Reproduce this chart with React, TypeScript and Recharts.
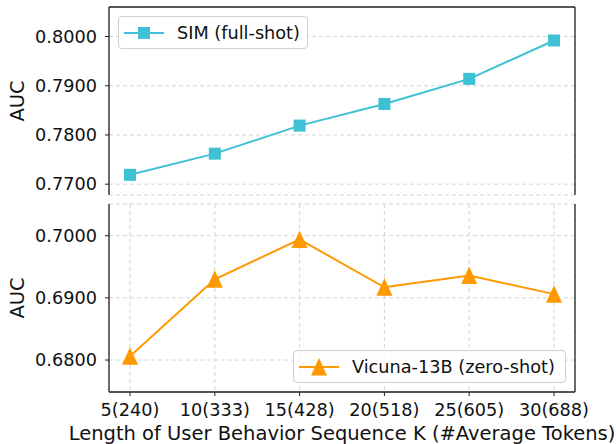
import React from 'react';
import { LineChart, Line, XAxis, YAxis, CartesianGrid } from 'recharts';

const categories = ['5(240)', '10(333)', '15(428)', '20(518)', '25(605)', '30(688)'];
const simValues = [0.7719, 0.7762, 0.7819, 0.7863, 0.7914, 0.7992];
const vicunaValues = [0.6806, 0.6930, 0.6994, 0.6917, 0.6936, 0.6906];
const topTicks = [0.77, 0.78, 0.79, 0.8];
const bottomTicks = [0.68, 0.69, 0.7];
const topDomain = [0.7678, 0.806];
const bottomDomain = [0.67486, 0.7051];
const simName = 'SIM (full-shot)';
const vicunaName = 'Vicuna-13B (zero-shot)';
const xLabel = 'Length of User Behavior Sequence K (#Average Tokens)';
const yLabel = 'AUC';

const data = categories.map((c, i) => ({ cat: c, sim: simValues[i], vicuna: vicunaValues[i] }));

const FONT = 'DejaVu Sans, sans-serif';
const FS = 17.7;
const LFS = 19.5;
const CYAN = '#3ec1d5';
const ORANGE = '#ff9900';
const SPINE = '#222';
const SPW = 1.3;
const GRID = '#d4d4d4';

const tickStyle = { fontFamily: FONT, fontSize: FS, fill: '#111' };
const labelStyle = { textAnchor: 'middle', fontFamily: FONT, fontSize: LFS, fill: '#111' } as any;

const Square = (props: any) => {
  const { cx, cy, index } = props;
  if (cx == null || cy == null) return null;
  return <rect key={`sq-${index}`} x={cx - 6} y={cy - 6} width={12} height={12} fill={CYAN} />;
};

const Tri = (props: any) => {
  const { cx, cy, index } = props;
  if (cx == null || cy == null) return null;
  return (
    <polygon
      key={`tri-${index}`}
      points={`${cx},${cy - 9} ${cx - 8},${cy + 8.5} ${cx + 8},${cy + 8.5}`}
      fill={ORANGE}
    />
  );
};

const LegendBox = ({ name, color, marker, left, top, width }: { name: string; color: string; marker: 'square' | 'tri'; left: number; top: number; width: number }) => (
  <div
    style={{
      position: 'absolute',
      left,
      top,
      width,
      height: 33,
      boxSizing: 'border-box',
      border: '1px solid #cfcfcf',
      borderRadius: 4,
      background: 'rgba(255,255,255,0.8)',
      display: 'flex',
      alignItems: 'center',
      paddingLeft: 5,
      fontFamily: FONT,
      fontSize: FS,
      color: '#111',
      whiteSpace: 'nowrap',
    }}
  >
    <svg width={42} height={30} style={{ flex: 'none' }}>
      <line x1={0} y1={15} x2={40} y2={15} stroke={color} strokeWidth={2} />
      {marker === 'square' ? (
        <rect x={14} y={9} width={12} height={12} fill={color} />
      ) : (
        <polygon points={`20,6 12,23.5 28,23.5`} fill={color} />
      )}
    </svg>
    <span style={{ marginLeft: 11 }}>{name}</span>
  </div>
);

export default function App() {
  return (
    <div style={{ position: 'absolute', left: 0, top: 0, width: 616, height: 444, background: '#fff' }}>
      <div style={{ position: 'absolute', left: 0, top: 0 }}>
        <LineChart width={616} height={200} data={data} margin={{ top: 6, right: 40, bottom: 5, left: 0 }}>
          <CartesianGrid stroke={GRID} strokeDasharray="4 3" strokeWidth={1} />
          <XAxis
            dataKey="cat"
            orientation="top"
            height={1}
            tick={false}
            tickLine={false}
            axisLine={{ stroke: SPINE, strokeWidth: SPW }}
            padding={{ left: 21, right: 21 }}
          />
          <YAxis
            type="number"
            domain={topDomain}
            ticks={topTicks}
            allowDataOverflow
            width={109}
            tickSize={4}
            tickMargin={8}
            tick={tickStyle}
            tickFormatter={(v: number) => v.toFixed(4)}
            axisLine={{ stroke: SPINE, strokeWidth: SPW }}
            tickLine={{ stroke: SPINE }}
            label={{ value: yLabel, angle: -90, position: 'insideLeft', offset: 17, style: labelStyle }}
          />
          <YAxis
            yAxisId="r"
            orientation="right"
            type="number"
            domain={topDomain}
            width={1}
            tick={false}
            tickLine={false}
            axisLine={{ stroke: SPINE, strokeWidth: SPW }}
          />
          <Line
            dataKey="sim"
            name={simName}
            stroke={CYAN}
            strokeWidth={2}
            dot={Square}
            activeDot={false}
            isAnimationActive={false}
          />
        </LineChart>
      </div>
      <div style={{ position: 'absolute', left: 0, top: 200 }}>
        <LineChart width={616} height={244} data={data} margin={{ top: 4, right: 40, bottom: 0, left: 0 }}>
          <CartesianGrid stroke={GRID} strokeDasharray="4 3" strokeWidth={1} />
          <XAxis
            dataKey="cat"
            height={52}
            tickSize={4}
            tickMargin={7}
            tick={tickStyle}
            axisLine={{ stroke: SPINE, strokeWidth: SPW }}
            tickLine={{ stroke: SPINE }}
            padding={{ left: 21, right: 21 }}
            interval={0}
            label={{ value: xLabel, position: 'insideBottom', offset: 4, style: labelStyle }}
          />
          <YAxis
            type="number"
            domain={bottomDomain}
            ticks={bottomTicks}
            allowDataOverflow
            width={109}
            tickSize={4}
            tickMargin={8}
            tick={tickStyle}
            tickFormatter={(v: number) => v.toFixed(4)}
            axisLine={{ stroke: SPINE, strokeWidth: SPW }}
            tickLine={{ stroke: SPINE }}
            label={{ value: yLabel, angle: -90, position: 'insideLeft', offset: 17, style: labelStyle }}
          />
          <YAxis
            yAxisId="r"
            orientation="right"
            type="number"
            domain={bottomDomain}
            width={1}
            tick={false}
            tickLine={false}
            axisLine={{ stroke: SPINE, strokeWidth: SPW }}
          />
          <Line
            dataKey="vicuna"
            name={vicunaName}
            stroke={ORANGE}
            strokeWidth={2}
            dot={Tri}
            activeDot={false}
            isAnimationActive={false}
          />
        </LineChart>
      </div>
      <LegendBox name={simName} color={CYAN} marker="square" left={118} top={16} width={190} />
      <LegendBox name={vicunaName} color={ORANGE} marker="tri" left={293} top={350} width={273} />
    </div>
  );
}
